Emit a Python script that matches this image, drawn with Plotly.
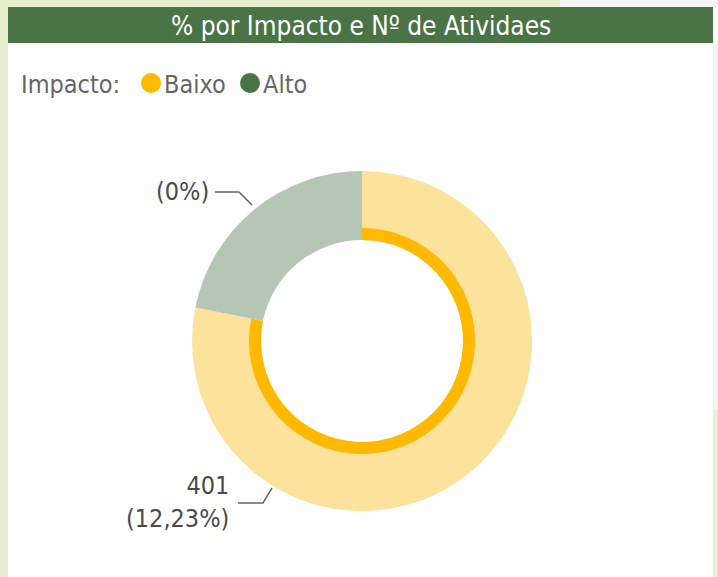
import plotly.graph_objects as go

# ---- data ----
categories = ["Baixo", "Alto"]
slice_values = [401, 112]
label_counts = ["401", ""]
label_pcts = ["12,23%", "0%"]
title_text = "% por Impacto e Nº de Atividaes"
legend_title = "Impacto:"

W, H = 718, 577
FONT = "DejaVu Sans Condensed"
outer_colors = ["#FDE29B", "#B5C7B4"]
inner_colors = ["#FFB900", "rgba(0,0,0,0)"]
legend_colors = ["#FFB900", "#4A7445"]

def px(x):
    return x / W

def py(y):
    return 1 - y / H

cx, cy = 362, 341
R_out, R_ring, R_hole = 170, 113, 101

def dom(r):
    return dict(x=[px(cx - r), px(cx + r)], y=[py(cy + r), py(cy - r)])

fig = go.Figure()
fig.add_trace(go.Pie(
    labels=categories, values=slice_values, sort=False, direction="clockwise", rotation=0,
    hole=R_hole / R_out, marker=dict(colors=outer_colors, line=dict(width=0)),
    textinfo="none", hoverinfo="label+value", domain=dom(R_out), showlegend=False))
fig.add_trace(go.Pie(
    labels=categories, values=slice_values, sort=False, direction="clockwise", rotation=0,
    hole=R_hole / R_ring, marker=dict(colors=inner_colors, line=dict(width=0)),
    textinfo="none", hoverinfo="skip", domain=dom(R_ring), showlegend=False))

shapes = []
def rect(x0, y0, x1, y1, color):
    shapes.append(dict(type="rect", xref="paper", yref="paper", x0=px(x0), x1=px(x1),
                       y0=py(y1), y1=py(y0), fillcolor=color, line=dict(width=0), layer="below"))

# frame / background pieces
rect(0, 0, 8, H, "#E6EECF")
rect(0, 0, 560, 7, "#E6EECF")
rect(560, 0, W, 7, "#F4F4F4")
rect(713, 44, W, 410, "#F2F2F2")
rect(713, 410, W, H, "#E6EECF")
rect(8, 7, 713, 43, "#4A7445")

annotations = [dict(text=title_text, x=px(361), y=py(26), xref="paper", yref="paper",
                    showarrow=False, xanchor="center", yanchor="middle",
                    font=dict(family=FONT, size=26, color="white"))]

# legend
annotations.append(dict(text=legend_title, x=px(19), y=py(84), xref="paper", yref="paper",
                        showarrow=False, xanchor="left", yanchor="middle",
                        font=dict(family=FONT, size=25, color="#666666")))
leg_dot_x = [151, 250]
leg_text_x = [162, 261]
for i, c in enumerate(categories):
    shapes.append(dict(type="circle", xref="paper", yref="paper",
                       x0=px(leg_dot_x[i] - 10), x1=px(leg_dot_x[i] + 10),
                       y0=py(93), y1=py(73), fillcolor=legend_colors[i], line=dict(width=0)))
    annotations.append(dict(text=c, x=px(leg_text_x[i]), y=py(84), xref="paper", yref="paper",
                            showarrow=False, xanchor="left", yanchor="middle",
                            font=dict(family=FONT, size=25, color="#666666")))

# data labels with leader lines
label_pos = [(231, 502), (211, 191)]
leader = [[(238, 503), (263, 503), (272, 488)], [(215, 192), (239, 192), (252, 205)]]
for i in range(len(categories)):
    parts = []
    if label_counts[i]:
        parts.append(label_counts[i])
    parts.append("(" + label_pcts[i] + ")")
    annotations.append(dict(text="<br>".join(parts), x=px(label_pos[i][0]), y=py(label_pos[i][1]),
                            xref="paper", yref="paper", showarrow=False, xanchor="right",
                            yanchor="middle", align="right",
                            font=dict(family=FONT, size=25, color="#4A4A4A")))
    pts = leader[i]
    path = "M {} {}".format(px(pts[0][0]), py(pts[0][1])) + "".join(
        " L {} {}".format(px(x), py(y)) for x, y in pts[1:])
    shapes.append(dict(type="path", xref="paper", yref="paper", path=path,
                       line=dict(color="#666666", width=1.5)))

fig.update_layout(width=W, height=H, margin=dict(l=0, r=0, t=0, b=0),
                  paper_bgcolor="white", plot_bgcolor="white",
                  shapes=shapes, annotations=annotations)
fig.write_html("out.html", config={"displayModeBar": False},
               post_script="document.body.style.margin='0';document.body.style.overflow='hidden';")
